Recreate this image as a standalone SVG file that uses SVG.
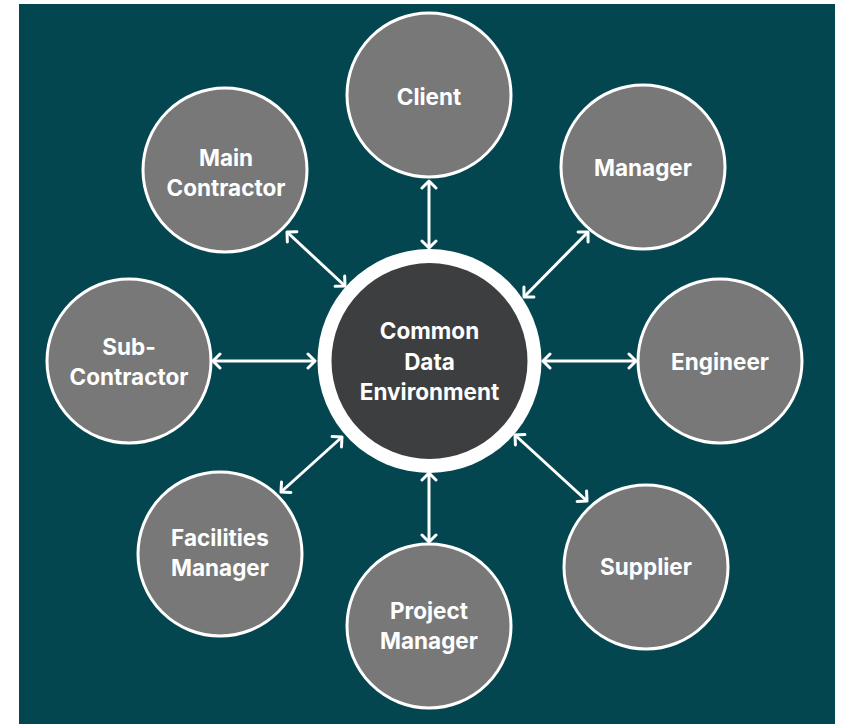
<svg xmlns="http://www.w3.org/2000/svg" width="851" height="724" viewBox="0 0 851 724">
  <style>
    .node circle { fill: #787878; stroke: #ffffff; stroke-width: 3; }
    .label { font-family: Inter, "Liberation Sans", Arial, sans-serif; font-weight: 700; font-size: 22.5px; fill: #ffffff; text-anchor: middle; dominant-baseline: central; }
    .link { stroke: #ffffff; stroke-width: 3; fill: none; marker-start: url(#chev); marker-end: url(#chev); }
  </style>
  <defs>
    <marker id="chev" viewBox="0 0 18 18" refX="11" refY="9" markerWidth="18" markerHeight="18" markerUnits="userSpaceOnUse" orient="auto-start-reverse">
      <path d="M4,2 L11,9 L4,16" fill="none" stroke="#ffffff" stroke-width="3" stroke-linecap="round" stroke-linejoin="round"/>
    </marker>
  </defs>

  <!-- backdrop -->
  <rect x="0" y="0" width="851" height="724" fill="#ffffff"/>
  <rect x="19" y="4" width="816" height="720" fill="#03464f"/>

  <!-- connectors between the hub and each party -->
  <g id="connectors">
    <line class="link" x1="429" y1="181" x2="429" y2="248"/>
    <line class="link" x1="287" y1="232" x2="345" y2="286"/>
    <line class="link" x1="588" y1="232" x2="524" y2="297"/>
    <line class="link" x1="213" y1="361" x2="315" y2="361"/>
    <line class="link" x1="543" y1="361" x2="636" y2="361"/>
    <line class="link" x1="281" y1="492" x2="342" y2="437"/>
    <line class="link" x1="515" y1="435" x2="587" y2="501"/>
    <line class="link" x1="429" y1="473" x2="429" y2="542"/>
  </g>

  <!-- hub -->
  <g id="cde">
    <circle cx="429.5" cy="361" r="112" fill="#ffffff"/>
    <circle cx="429.5" cy="361" r="98" fill="#3d3e40"/>
    <text class="label" x="429.5" y="330">Common</text>
    <text class="label" x="429.5" y="361">Data</text>
    <text class="label" x="429.5" y="391">Environment</text>
  </g>

  <g id="client" class="node">
    <circle cx="429" cy="95" r="82"/>
    <text class="label" x="429" y="96">Client</text>
  </g>

  <g id="main-contractor" class="node">
    <circle cx="225" cy="170" r="82"/>
    <text class="label" x="226" y="157">Main</text>
    <text class="label" x="226" y="187">Contractor</text>
  </g>

  <g id="manager" class="node">
    <circle cx="643" cy="167" r="82"/>
    <text class="label" x="643" y="167">Manager</text>
  </g>

  <g id="sub-contractor" class="node">
    <circle cx="129" cy="361" r="82"/>
    <text class="label" x="129" y="346">Sub-</text>
    <text class="label" x="129" y="376">Contractor</text>
  </g>

  <g id="engineer" class="node">
    <circle cx="720" cy="361" r="82"/>
    <text class="label" x="720" y="361">Engineer</text>
  </g>

  <g id="facilities-manager" class="node">
    <circle cx="220" cy="554" r="82"/>
    <text class="label" x="220" y="537">Facilities</text>
    <text class="label" x="220" y="567">Manager</text>
  </g>

  <g id="supplier" class="node">
    <circle cx="646" cy="567" r="82"/>
    <text class="label" x="646" y="566">Supplier</text>
  </g>

  <g id="project-manager" class="node">
    <circle cx="429" cy="626" r="82"/>
    <text class="label" x="429" y="610">Project</text>
    <text class="label" x="429" y="640">Manager</text>
  </g>
</svg>
